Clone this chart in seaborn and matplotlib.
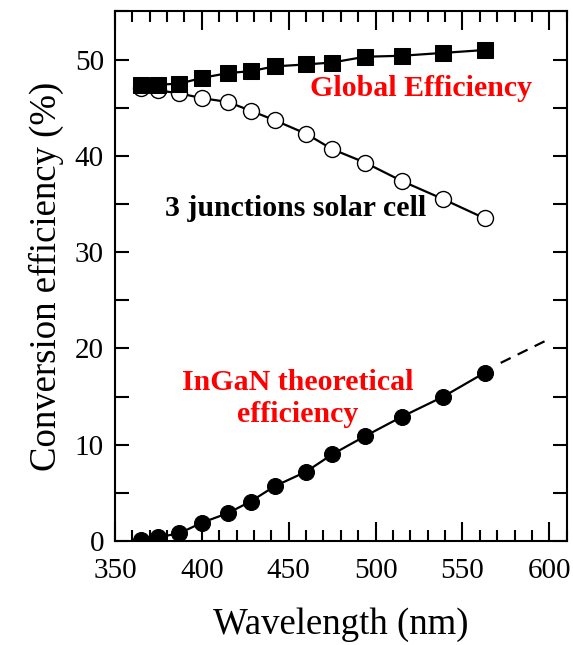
import numpy as np
import pandas as pd
import matplotlib
matplotlib.use("Agg")
import matplotlib.pyplot as plt
from matplotlib.ticker import MultipleLocator
import seaborn as sns

# ---- data ----
wavelength = [365, 375, 387, 400, 415, 428, 442, 460, 475, 494, 515, 539, 563]
global_eff = [47.4, 47.4, 47.5, 48.1, 48.6, 48.8, 49.3, 49.5, 49.7, 50.3, 50.4, 50.7, 51.0]
three_junction = [47.1, 46.8, 46.5, 46.0, 45.6, 44.7, 43.7, 42.3, 40.7, 39.3, 37.4, 35.5, 33.5]
ingan = [0.1, 0.4, 0.8, 1.9, 2.9, 4.1, 5.7, 7.2, 9.0, 10.9, 12.9, 15.0, 17.5]
ingan_extrap_x = [572, 599]
ingan_extrap_y = [18.5, 20.9]
x_ticks = [350, 400, 450, 500, 550, 600]
y_ticks = [0, 10, 20, 30, 40, 50]

sns.set_style("ticks")
plt.rcParams['font.family'] = ['Liberation Serif', 'DejaVu Serif']
for k in ["text.color", "axes.labelcolor", "xtick.color", "ytick.color", "axes.edgecolor"]:
    plt.rcParams[k] = "black"

fig = plt.figure(figsize=(5.73, 6.45), dpi=100)
ax = fig.add_axes([0.2007, 0.1612, 0.989 - 0.2007, 0.9822 - 0.1612])

df = pd.DataFrame({"wl": wavelength, "g": global_eff, "t": three_junction, "i": ingan})

sns.lineplot(data=df, x="wl", y="t", ax=ax, color="black", lw=1.6,
             marker="o", markersize=11.5, markerfacecolor="white",
             markeredgecolor="black", markeredgewidth=1.0, zorder=3)
sns.lineplot(data=df, x="wl", y="g", ax=ax, color="black", lw=1.6,
             marker="s", markersize=11.5, markerfacecolor="black",
             markeredgecolor="black", zorder=4)
sns.lineplot(data=df, x="wl", y="i", ax=ax, color="black", lw=1.6,
             marker="o", markersize=11.5, markerfacecolor="black",
             markeredgecolor="black", zorder=4)
ax.plot(ingan_extrap_x, ingan_extrap_y, color="black", lw=1.6,
        ls=(0, (5, 3.5)), zorder=2)

ax.set_xlim(350, 610)
ax.set_ylim(0, 55)
ax.set_xticks(x_ticks)
ax.set_yticks(y_ticks)
ax.xaxis.set_minor_locator(MultipleLocator(10))
ax.yaxis.set_minor_locator(MultipleLocator(5))
ax.tick_params(axis="x", which="major", direction="in", length=14, width=1.5,
               top=True, bottom=True, labelsize=21, pad=12)
ax.tick_params(axis="x", which="minor", direction="in", length=8, width=1.5,
               top=True, bottom=True)
ax.tick_params(axis="y", which="both", direction="in", length=10, width=1.5,
               left=True, right=True, labelsize=21, pad=8)
for s in ax.spines.values():
    s.set_linewidth(1.5)
    s.set_color("black")

ax.set_xlabel("Wavelength (nm)", fontsize=26.5, labelpad=17)
ax.set_ylabel("Conversion efficiency (%)", fontsize=26.5, labelpad=8)

ax.text(526, 47.0, "Global Efficiency", color="red", fontsize=21.5,
        fontweight="bold", ha="center", va="center")
ax.text(454, 34.5, "3 junctions solar cell", color="black", fontsize=21.5,
        fontweight="bold", ha="center", va="center")
ax.text(455, 14.8, "InGaN theoretical\nefficiency", color="red", fontsize=21.5,
        fontweight="bold", ha="center", va="center", linespacing=1.28)

fig.savefig("out.png", dpi=100)
